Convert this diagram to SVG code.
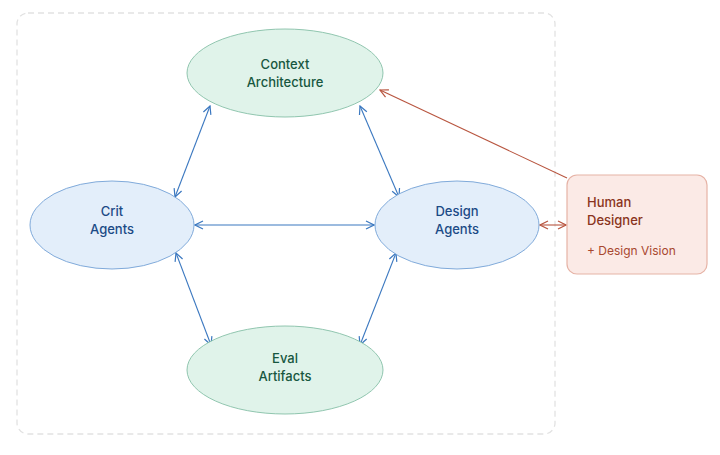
<svg xmlns="http://www.w3.org/2000/svg" width="720" height="455" viewBox="0 0 720 455">
<defs>
<marker id="ab" viewBox="0 0 10 10" refX="9" refY="5" markerWidth="10" markerHeight="10" markerUnits="userSpaceOnUse" orient="auto-start-reverse"><path d="M1,1 L9,5 L1,9" fill="none" stroke="#3b78c0" stroke-width="1.2"/></marker>
<marker id="ar" viewBox="0 0 10 10" refX="9" refY="5" markerWidth="10" markerHeight="10" markerUnits="userSpaceOnUse" orient="auto-start-reverse"><path d="M1,1 L9,5 L1,9" fill="none" stroke="#b8553f" stroke-width="1.2"/></marker>
<style>
.green{fill:#e0f3ea;stroke:#86c0a7;stroke-width:0.9}
.blue{fill:#e3eefa;stroke:#74a2d6;stroke-width:0.9}
.tg{font-family:Inter,"Liberation Sans",sans-serif;font-size:13px;font-weight:500;fill:#17573f;text-anchor:middle}
.tb{font-family:Inter,"Liberation Sans",sans-serif;font-size:13px;font-weight:500;fill:#1b4a86;text-anchor:middle}
.cb{stroke:#3b78c0;stroke-width:1.1;fill:none;marker-start:url(#ab);marker-end:url(#ab)}
.cr{stroke:#b8553f;stroke-width:1.1;fill:none}
</style>
</defs>
<rect width="720" height="455" fill="#ffffff"/>
<rect x="17" y="13" width="538" height="421" rx="11" fill="none" stroke="#e2e2e2" stroke-width="1.3" stroke-dasharray="6,4"/>
<g id="connectors">
<line class="cb" x1="210" y1="106" x2="175" y2="197"/>
<line class="cb" x1="360" y1="106" x2="399" y2="197"/>
<line class="cb" x1="195" y1="225" x2="374" y2="225"/>
<line class="cb" x1="176" y1="253" x2="211" y2="345"/>
<line class="cb" x1="396" y1="253" x2="360" y2="345"/>
<line class="cr" x1="567" y1="178" x2="380" y2="90" marker-end="url(#ar)"/>
<line class="cr" x1="540" y1="225" x2="566" y2="225" marker-start="url(#ar)" marker-end="url(#ar)"/>
</g>
<g id="context">
<ellipse class="green" cx="285" cy="73" rx="98" ry="44"/>
<text class="tg" x="285" y="69">Context</text>
<text class="tg" x="285" y="87">Architecture</text>
</g>
<g id="crit">
<ellipse class="blue" cx="112" cy="225" rx="82" ry="44"/>
<text class="tb" x="112" y="216">Crit</text>
<text class="tb" x="112" y="234">Agents</text>
</g>
<g id="design">
<ellipse class="blue" cx="457" cy="225" rx="82" ry="44"/>
<text class="tb" x="457" y="216">Design</text>
<text class="tb" x="457" y="234">Agents</text>
</g>
<g id="eval">
<ellipse class="green" cx="285" cy="370" rx="98" ry="44"/>
<text class="tg" x="285" y="363">Eval</text>
<text class="tg" x="285" y="381">Artifacts</text>
</g>
<g id="human">
<rect x="567" y="175" width="140" height="99" rx="10" fill="#fbeae6" stroke="#e6b3a6" stroke-width="1.2"/>
<text x="587" y="207" font-family="Inter,'Liberation Sans',sans-serif" font-size="13" font-weight="500" fill="#8a3420">Human</text>
<text x="587" y="225" font-family="Inter,'Liberation Sans',sans-serif" font-size="13" font-weight="500" fill="#8a3420">Designer</text>
<text x="587" y="255" font-family="Inter,'Liberation Sans',sans-serif" font-size="12" fill="#a8472f">+ Design Vision</text>
</g>
</svg>
